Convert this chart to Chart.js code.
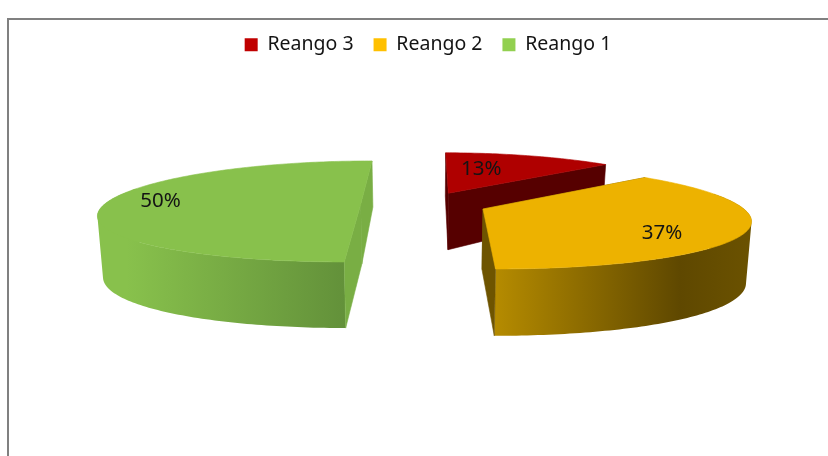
<!DOCTYPE html>
<html>
<head>
<meta charset="utf-8">
<title>Reango</title>
<script src="https://cdn.jsdelivr.net/npm/chart.js@4/dist/chart.umd.min.js"></script>
<style>
  html,body{margin:0;padding:0;background:#fff;overflow:hidden;}
  #frame{position:absolute;left:7px;top:18px;width:830px;height:450px;border-left:2px solid #808080;border-top:2px solid #808080;}
  #wrap{position:absolute;left:0;top:0;width:828px;height:456px;}
</style>
</head>
<body>
<div id="frame"></div>
<div id="wrap"><canvas id="pie"></canvas></div>
<script>
// ----- data -----
const labels = ["Reango 3","Reango 2","Reango 1"];
const values = [13,37,50];
const colors = ["#C00000","#FFC000","#92D050"];

// ----- look of the tilted pie -----
const topColors = ["#AF0000","#EDB200","#88C14C"];
const cutColors = ["#560000","#6E5400","#79AE44"];
const wallStops = [
  [[0,"#560000"],[1,"#560000"]],
  [[0,"#B58B00"],[0.72,"#5F4800"],[1,"#6B5200"]],
  [[0,"#88C14C"],[0.12,"#88C14C"],[1,"#63913A"]]
];
const explode = 0.247;
const labelRadius = [0.584,0.75,0.796];
const labelTurn = [-8,12,4];
const view = { x:424, y:204, rx:256, ry:49.4, persp:0.149, perspX:0.19, shrink:0.983 };

const rad = (d)=>d*Math.PI/180;
function depthAt(w){ return w<1 ? 60-(1-w)*107 : 60+(w-1)*35; }

// ground point (radius = 1) -> screen, top or bottom face
function project(X,Z,bottom){
  const w = 1/(1-view.persp*Z);
  let x = view.x + view.rx*X/(1-view.perspX*Z);
  let y = view.y + view.ry*Z*w;
  if(bottom){ x = view.x + (x-view.x)*view.shrink; y += depthAt(w); }
  return [x,y];
}
function tracePoly(ctx,pts){
  pts.forEach((p,i)=> i? ctx.lineTo(p[0],p[1]) : ctx.moveTo(p[0],p[1]));
  ctx.closePath();
}
function poly(ctx,pts,fill){
  ctx.beginPath();
  tracePoly(ctx,pts);
  ctx.fillStyle = fill; ctx.strokeStyle = fill; ctx.lineWidth = 0.6;
  ctx.fill(); ctx.stroke();
}
function area(pts){
  return pts.reduce((s,p,i)=>{ const q = pts[(i+1)%pts.length]; return s+p[0]*q[1]-q[0]*p[1]; },0);
}

const tiltedPie = {
  id:"tiltedPie",
  // the flat arcs are replaced: angles still come from the arc elements
  beforeDatasetDraw(chart){
    const ctx = chart.ctx;
    const arcs = chart.getDatasetMeta(0).data.map((el,i)=>{
      const p = el.getProps(["startAngle","endAngle"],true);
      const mid = (p.startAngle+p.endAngle)/2;
      return { i, start:p.startAngle, end:p.endAngle, mid, ox:Math.cos(mid)*explode, oz:Math.sin(mid)*explode };
    }).sort((a,b)=> a.oz-b.oz);

    arcs.forEach(a=>{
      const rim = [];
      const n = Math.ceil((a.end-a.start)/rad(1));
      for(let k=0;k<=n;k++){
        const t = a.start+(a.end-a.start)*k/n;
        rim.push({ t, X:a.ox+Math.cos(t), Z:a.oz+Math.sin(t) });
      }
      const first = rim[0], last = rim[rim.length-1];
      // outer wall as one path so the strips leave no seams
      const xs = rim.filter(r=> Math.sin(r.t)>-0.06).map(r=> project(r.X,r.Z)[0]);
      if(xs.length>1){
        const g = ctx.createLinearGradient(Math.min(...xs),0,Math.max(...xs),0);
        wallStops[a.i].forEach(s=> g.addColorStop(s[0],s[1]));
        ctx.beginPath();
        for(let k=0;k<rim.length-1;k++){
          const r = rim[k], q = rim[k+1];
          if(Math.sin(r.t)<-0.3 && Math.sin(q.t)<-0.3) continue;
          const quad = [project(r.X,r.Z),project(q.X,q.Z),project(q.X,q.Z,true),project(r.X,r.Z,true)];
          tracePoly(ctx, area(quad)<0 ? quad.reverse() : quad);
        }
        ctx.fillStyle = g;
        ctx.fill();
      }
      // cut faces
      [first,last].forEach(r=>{
        poly(ctx,[project(a.ox,a.oz),project(r.X,r.Z),project(r.X,r.Z,true),project(a.ox,a.oz,true)],cutColors[a.i]);
      });
      // top face
      poly(ctx,[project(a.ox,a.oz)].concat(rim.map(r=> project(r.X,r.Z))),topColors[a.i]);
    });

    // value labels
    ctx.save();
    ctx.font = "20.5px 'Noto Sans'";
    ctx.fillStyle = "#141414";
    ctx.textAlign = "center"; ctx.textBaseline = "middle";
    arcs.forEach(a=>{
      const t = a.mid+rad(labelTurn[a.i]);
      const p = project(a.ox+Math.cos(t)*labelRadius[a.i], a.oz+Math.sin(t)*labelRadius[a.i]);
      ctx.fillText(values[a.i]+"%",p[0],p[1]);
    });
    ctx.restore();
    return false;
  }
};

new Chart(document.getElementById("pie"),{
  type:"pie",
  data:{ labels, datasets:[{ data:values, backgroundColor:colors, borderWidth:0 }] },
  options:{
    responsive:true, maintainAspectRatio:false, animation:false,
    rotation:0.3,
    layout:{ padding:{ top:15, left:28 } },
    plugins:{
      tooltip:{ enabled:false },
      legend:{
        position:"top",
        labels:{ boxWidth:13, boxHeight:13, padding:20, color:"#141414", font:{ family:"'Noto Sans'", size:19.5 } }
      }
    }
  },
  plugins:[tiltedPie]
});
</script>
</body>
</html>
